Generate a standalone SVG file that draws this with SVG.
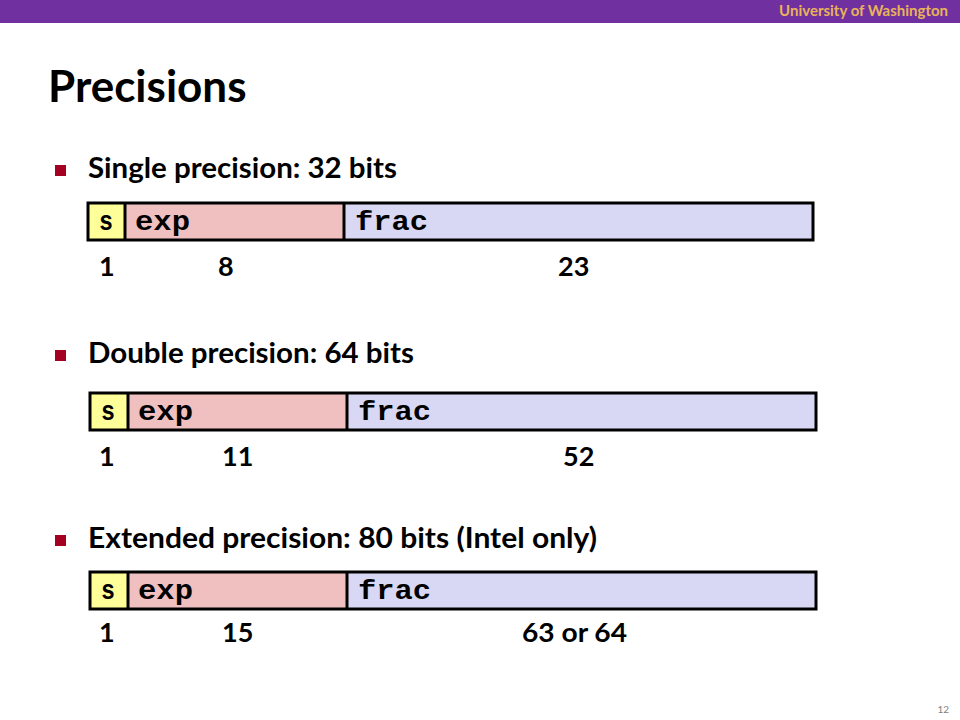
<svg xmlns="http://www.w3.org/2000/svg" width="960" height="720" viewBox="0 0 960 720">
<style>
.sans{font-family:Lato,"Open Sans","Liberation Sans",sans-serif;font-weight:bold;fill:#000}
.bul{font-size:29px}
.num{font-size:27px}
.mono{font-family:"Liberation Mono","Courier New",monospace;font-weight:bold;font-size:27px;fill:#000}
.s{fill:#FFFF99}
.e{fill:#F0BFBF}
.f{fill:#D8D8F4}
.out{fill:none;stroke:#000;stroke-width:3}
.div{stroke:#000;stroke-width:3}
.sq{fill:#A50021}
</style>
<rect x="0" y="0" width="960" height="23" fill="#7030A0"/>
<text x="948" y="16" text-anchor="end" font-family="Lato,'Open Sans',sans-serif" font-size="15" font-weight="bold" fill="#E8B45A">University of Washington</text>
<text x="48" y="102" class="sans" font-size="44">Precisions</text>

<g id="single">
<rect class="sq" x="55" y="165" width="11" height="11"/>
<text x="88" y="178" class="sans bul" textLength="309" lengthAdjust="spacingAndGlyphs">Single precision: 32 bits</text>
<rect class="s" x="88" y="203" width="37" height="37"/>
<rect class="e" x="125" y="203" width="219" height="37"/>
<rect class="f" x="344" y="203" width="469" height="37"/>
<line class="div" x1="125" y1="203" x2="125" y2="240"/>
<line class="div" x1="344" y1="203" x2="344" y2="240"/>
<rect class="out" x="88" y="203" width="725" height="37"/>
<text x="99" y="230" class="mono" textLength="14" lengthAdjust="spacingAndGlyphs">s</text>
<text x="135" y="230" class="mono" textLength="55" lengthAdjust="spacingAndGlyphs">exp</text>
<text x="355" y="230" class="mono" textLength="73" lengthAdjust="spacingAndGlyphs">frac</text>
<text x="99" y="276" class="sans num">1</text>
<text x="218" y="276" class="sans num">8</text>
<text x="558" y="276" class="sans num">23</text>
</g>

<g id="double">
<rect class="sq" x="55" y="350" width="11" height="11"/>
<text x="88" y="363" class="sans bul" textLength="326" lengthAdjust="spacingAndGlyphs">Double precision: 64 bits</text>
<rect class="s" x="90" y="393" width="38" height="37"/>
<rect class="e" x="128" y="393" width="219" height="37"/>
<rect class="f" x="347" y="393" width="469" height="37"/>
<line class="div" x1="128" y1="393" x2="128" y2="430"/>
<line class="div" x1="347" y1="393" x2="347" y2="430"/>
<rect class="out" x="90" y="393" width="726" height="37"/>
<text x="101" y="420" class="mono" textLength="14" lengthAdjust="spacingAndGlyphs">s</text>
<text x="138" y="420" class="mono" textLength="55" lengthAdjust="spacingAndGlyphs">exp</text>
<text x="358" y="420" class="mono" textLength="73" lengthAdjust="spacingAndGlyphs">frac</text>
<text x="99" y="466" class="sans num">1</text>
<text x="222" y="466" class="sans num">11</text>
<text x="563" y="466" class="sans num">52</text>
</g>

<g id="extended">
<rect class="sq" x="55" y="535" width="11" height="11"/>
<text x="88" y="548" class="sans bul" textLength="509" lengthAdjust="spacingAndGlyphs">Extended precision: 80 bits (Intel only)</text>
<rect class="s" x="90" y="572" width="38" height="37"/>
<rect class="e" x="128" y="572" width="219" height="37"/>
<rect class="f" x="347" y="572" width="469" height="37"/>
<line class="div" x1="128" y1="572" x2="128" y2="609"/>
<line class="div" x1="347" y1="572" x2="347" y2="609"/>
<rect class="out" x="90" y="572" width="726" height="37"/>
<text x="101" y="599" class="mono" textLength="14" lengthAdjust="spacingAndGlyphs">s</text>
<text x="138" y="599" class="mono" textLength="55" lengthAdjust="spacingAndGlyphs">exp</text>
<text x="358" y="599" class="mono" textLength="73" lengthAdjust="spacingAndGlyphs">frac</text>
<text x="99" y="642" class="sans num">1</text>
<text x="222" y="642" class="sans num">15</text>
<text x="522" y="642" class="sans num" textLength="105" lengthAdjust="spacingAndGlyphs">63 or 64</text>
</g>

<text x="949" y="713" text-anchor="end" font-family="Lato,'Open Sans',sans-serif" font-size="10" fill="#808080">12</text>
</svg>
